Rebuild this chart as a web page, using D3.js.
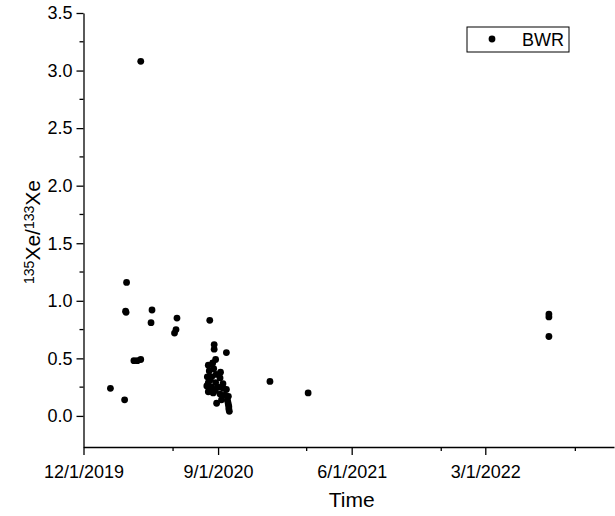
<!DOCTYPE html>
<html lang="en">
<head>
    <meta charset="UTF-8">
    <title>135Xe/133Xe ratio vs time</title>
    <script src="https://d3js.org/d3.v7.min.js"></script>
    <style>
        body { margin: 0; background: #fff; }
        text { font-family: "Liberation Sans", Arial, sans-serif; fill: #000; }
    </style>
</head>
<body>
<svg width="615" height="516"></svg>
<script>
    // sample dates (M/D/YYYY) and 135Xe/133Xe ratios
    var sampleDates = [
        "1/25/2020", "2/23/2020", "2/27/2020", "2/25/2020", "2/26/2020",
        "3/13/2020", "3/20/2020", "3/27/2020", "3/27/2020",
        "4/17/2020", "4/19/2020", "6/4/2020", "6/7/2020", "6/9/2020",
        "8/15/2020", "8/24/2020", "8/24/2020", "9/18/2020", "8/27/2020",
        "8/21/2020", "8/12/2020", "8/23/2020", "8/14/2020", "9/6/2020",
        "8/10/2020", "8/19/2020", "9/5/2020", "8/12/2020", "8/27/2020",
        "8/9/2020", "8/19/2020", "9/1/2020", "9/11/2020", "9/18/2020",
        "8/12/2020", "8/22/2020", "9/5/2020", "9/15/2020", "9/22/2020",
        "8/29/2020", "9/20/2020", "9/22/2020", "9/23/2020", "9/24/2020",
        "9/8/2020", "9/11/2020", "8/15/2020", "8/26/2020", "8/28/2020",
        "9/23/2020", "9/21/2020",
        "12/16/2020", "3/4/2021",
        "7/9/2022", "7/9/2022", "7/9/2022"
    ];
    var ratios = [
        0.24, 0.14, 1.16, 0.91, 0.90,
        0.48, 0.48, 0.49, 3.08,
        0.81, 0.92, 0.72, 0.75, 0.85,
        0.83, 0.62, 0.58, 0.55, 0.49,
        0.46, 0.44, 0.41, 0.39, 0.38,
        0.34, 0.34, 0.33, 0.29, 0.29,
        0.26, 0.25, 0.25, 0.24, 0.23,
        0.21, 0.20, 0.19, 0.18, 0.17,
        0.11, 0.14, 0.10, 0.06, 0.04,
        0.14, 0.28, 0.31, 0.22, 0.36,
        0.08, 0.12,
        0.30, 0.20,
        0.885, 0.86, 0.69
    ];
    var seriesName = "BWR";

    var xMajorTicks = ["12/1/2019", "9/1/2020", "6/1/2021", "3/1/2022"];
    var xMinorTicks = ["6/1/2020", "3/1/2021", "12/1/2021", "9/1/2022"];
    var yMajorTicks = [0, 0.5, 1.0, 1.5, 2.0, 2.5, 3.0, 3.5];
    var yMinorTicks = [0.25, 0.75, 1.25, 1.75, 2.25, 2.75, 3.25];

    var parseDate = d3.utcParse("%m/%d/%Y"),
        fmtDate = d3.utcFormat("%-m/%-d/%Y");

    var svg = d3.select("svg"),
        margin = {top: 13, right: 1, bottom: 69, left: 83.5},
        width = +svg.attr("width") - margin.left - margin.right,
        height = +svg.attr("height") - margin.top - margin.bottom;

    var x = d3.scaleUtc()
        .domain([parseDate("12/1/2019"), parseDate("11/19/2022")])
        .range([margin.left, margin.left + width]);
    var y = d3.scaleLinear()
        .domain([-0.27, 3.5])
        .range([margin.top + height, margin.top]);

    var axisColor = "#000", lw = 1.3;

    // x axis
    var gx = svg.append("g")
        .attr("transform", "translate(0," + (margin.top + height) + ")");
    gx.call(d3.axisBottom(x)
            .tickValues(xMajorTicks.map(parseDate))
            .tickFormat(fmtDate)
            .tickSizeInner(8).tickSizeOuter(0).tickPadding(10))
        .call(g => g.selectAll("text").style("font-size", "18px")
            .style("font-family", "'Liberation Sans', Arial, sans-serif"));
    gx.selectAll("path, line").attr("stroke", axisColor).attr("stroke-width", lw);
    gx.append("g").selectAll("line")
        .data(xMinorTicks.map(parseDate))
        .join("line")
        .attr("x1", d => x(d)).attr("x2", d => x(d))
        .attr("y1", 0).attr("y2", 4)
        .attr("stroke", axisColor).attr("stroke-width", lw);

    // y axis
    var gy = svg.append("g")
        .attr("transform", "translate(" + margin.left + ",0)");
    gy.call(d3.axisLeft(y)
            .tickValues(yMajorTicks)
            .tickFormat(d3.format(".1f"))
            .tickSizeInner(7).tickSizeOuter(0).tickPadding(4))
        .call(g => g.selectAll("text").style("font-size", "18px")
            .style("font-family", "'Liberation Sans', Arial, sans-serif"));
    gy.selectAll("path, line").attr("stroke", axisColor).attr("stroke-width", lw);
    gy.append("g").selectAll("line")
        .data(yMinorTicks)
        .join("line")
        .attr("x1", -4).attr("x2", 0)
        .attr("y1", d => y(d)).attr("y2", d => y(d))
        .attr("stroke", axisColor).attr("stroke-width", lw);

    // axis titles
    svg.append("text")
        .attr("x", x.range()[0] + (x.range()[1] - x.range()[0]) / 2 + 3)
        .attr("y", 507)
        .attr("text-anchor", "middle")
        .style("font-size", "21px")
        .text("Time");

    var yt = svg.append("text")
        .attr("transform", "translate(40," + (margin.top + height / 2 + 2) + ") rotate(-90)")
        .attr("text-anchor", "middle")
        .style("font-size", "21px");
    yt.append("tspan").attr("baseline-shift", "40%").style("font-size", "14px").text("135");
    yt.append("tspan").text("Xe/");
    yt.append("tspan").attr("baseline-shift", "40%").style("font-size", "14px").text("133");
    yt.append("tspan").text("Xe");

    // points
    var points = sampleDates.map((d, i) => ({date: parseDate(d), value: ratios[i]}));
    svg.append("g").selectAll("circle")
        .data(points)
        .join("circle")
        .attr("cx", d => x(d.date))
        .attr("cy", d => y(d.value))
        .attr("r", 3.4)
        .attr("fill", "#000");

    // legend
    var lg = svg.append("g").attr("transform", "translate(467,27)");
    lg.append("rect")
        .attr("width", 102).attr("height", 25)
        .attr("fill", "#fff").attr("stroke", "#000").attr("stroke-width", 1);
    lg.append("circle").attr("cx", 25).attr("cy", 12).attr("r", 3.4).attr("fill", "#000");
    lg.append("text").attr("x", 55).attr("y", 19).style("font-size", "18px").text(seriesName);
</script>
</body>
</html>
